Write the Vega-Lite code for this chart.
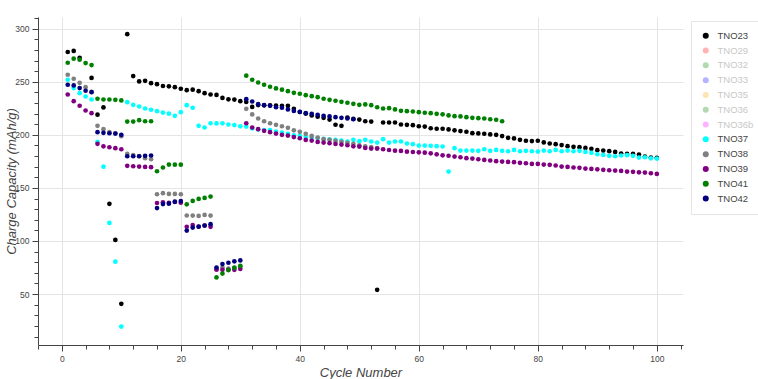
{
"$schema": "https://vega.github.io/schema/vega-lite/v6.json",
"width": 645, "height": 328, "autosize": "none",
"padding": {"left": 38, "top": 17, "right": 75, "bottom": 34},
"background": "white",
"config": {"view": {"stroke": null}, "font": "Liberation Sans"},
"data": {"values": [
{"s":"TNO23","c":1,"v":278},{"s":"TNO23","c":2,"v":279},{"s":"TNO23","c":3,"v":272.6},{"s":"TNO23","c":5,"v":253.6},{"s":"TNO23","c":6,"v":219},{"s":"TNO23","c":7,"v":225.8},{"s":"TNO23","c":8,"v":135},{"s":"TNO23","c":9,"v":101},{"s":"TNO23","c":10,"v":40.8},{"s":"TNO23","c":11,"v":294.8},{"s":"TNO23","c":12,"v":255.3},{"s":"TNO23","c":13,"v":250.3},{"s":"TNO23","c":14,"v":250.9},{"s":"TNO23","c":15,"v":248.7},{"s":"TNO23","c":16,"v":247.7},{"s":"TNO23","c":17,"v":246},{"s":"TNO23","c":18,"v":245.7},{"s":"TNO23","c":19,"v":244.9},{"s":"TNO23","c":20,"v":243.4},{"s":"TNO23","c":21,"v":242.1},{"s":"TNO23","c":22,"v":242.5},{"s":"TNO23","c":23,"v":241.1},{"s":"TNO23","c":24,"v":239.2},{"s":"TNO23","c":25,"v":238},{"s":"TNO23","c":26,"v":237.6},{"s":"TNO23","c":27,"v":234.8},{"s":"TNO23","c":28,"v":233.4},{"s":"TNO23","c":29,"v":233.2},{"s":"TNO23","c":30,"v":231.7},{"s":"TNO23","c":31,"v":231},{"s":"TNO23","c":32,"v":226.3},{"s":"TNO23","c":33,"v":228},{"s":"TNO23","c":34,"v":227.8},{"s":"TNO23","c":35,"v":227.8},{"s":"TNO23","c":36,"v":227.6},{"s":"TNO23","c":37,"v":227.3},{"s":"TNO23","c":38,"v":227.3},{"s":"TNO23","c":39,"v":224.5},{"s":"TNO23","c":40,"v":221.5},{"s":"TNO23","c":41,"v":220},{"s":"TNO23","c":42,"v":218.2},{"s":"TNO23","c":43,"v":217},{"s":"TNO23","c":44,"v":216},{"s":"TNO23","c":45,"v":214.4},{"s":"TNO23","c":46,"v":209.5},{"s":"TNO23","c":47,"v":208.5},{"s":"TNO23","c":48,"v":216.3},{"s":"TNO23","c":49,"v":215},{"s":"TNO23","c":50,"v":214.4},{"s":"TNO23","c":51,"v":212.8},{"s":"TNO23","c":52,"v":212.5},{"s":"TNO23","c":53,"v":54},{"s":"TNO23","c":54,"v":211.6},{"s":"TNO23","c":55,"v":211.6},{"s":"TNO23","c":56,"v":211.6},{"s":"TNO23","c":57,"v":209.7},{"s":"TNO23","c":58,"v":209.4},{"s":"TNO23","c":59,"v":209.1},{"s":"TNO23","c":60,"v":208.1},{"s":"TNO23","c":61,"v":207.8},{"s":"TNO23","c":62,"v":206.2},{"s":"TNO23","c":63,"v":205.7},{"s":"TNO23","c":64,"v":205.7},{"s":"TNO23","c":65,"v":205.1},{"s":"TNO23","c":66,"v":204.2},{"s":"TNO23","c":67,"v":203.5},{"s":"TNO23","c":68,"v":202.9},{"s":"TNO23","c":69,"v":201.6},{"s":"TNO23","c":70,"v":201.3},{"s":"TNO23","c":71,"v":201},{"s":"TNO23","c":72,"v":200.4},{"s":"TNO23","c":73,"v":200},{"s":"TNO23","c":74,"v":198.8},{"s":"TNO23","c":75,"v":197.2},{"s":"TNO23","c":76,"v":196.6},{"s":"TNO23","c":77,"v":195.3},{"s":"TNO23","c":78,"v":194.4},{"s":"TNO23","c":79,"v":194.1},{"s":"TNO23","c":80,"v":194.4},{"s":"TNO23","c":81,"v":192.8},{"s":"TNO23","c":82,"v":191.8},{"s":"TNO23","c":83,"v":191.2},{"s":"TNO23","c":84,"v":190.3},{"s":"TNO23","c":85,"v":189.3},{"s":"TNO23","c":86,"v":188.7},{"s":"TNO23","c":87,"v":188.4},{"s":"TNO23","c":88,"v":187.7},{"s":"TNO23","c":89,"v":186.8},{"s":"TNO23","c":90,"v":185.5},{"s":"TNO23","c":91,"v":185.2},{"s":"TNO23","c":92,"v":184.6},{"s":"TNO23","c":93,"v":183.9},{"s":"TNO23","c":94,"v":182.4},{"s":"TNO23","c":95,"v":182},{"s":"TNO23","c":96,"v":182},{"s":"TNO23","c":97,"v":181.4},{"s":"TNO23","c":98,"v":179.5},{"s":"TNO23","c":99,"v":178.6},{"s":"TNO23","c":100,"v":178.3},
{"s":"TNO37","c":1,"v":251.9},{"s":"TNO37","c":2,"v":244},{"s":"TNO37","c":3,"v":239.2},{"s":"TNO37","c":4,"v":236.1},{"s":"TNO37","c":5,"v":233.3},{"s":"TNO37","c":6,"v":193.5},{"s":"TNO37","c":7,"v":170},{"s":"TNO37","c":8,"v":117},{"s":"TNO37","c":9,"v":80.5},{"s":"TNO37","c":10,"v":19.4},{"s":"TNO37","c":11,"v":230.8},{"s":"TNO37","c":12,"v":228.3},{"s":"TNO37","c":13,"v":226.7},{"s":"TNO37","c":14,"v":224.8},{"s":"TNO37","c":15,"v":223.6},{"s":"TNO37","c":16,"v":222.3},{"s":"TNO37","c":17,"v":221},{"s":"TNO37","c":18,"v":219.9},{"s":"TNO37","c":19,"v":217.9},{"s":"TNO37","c":20,"v":221.3},{"s":"TNO37","c":21,"v":227.9},{"s":"TNO37","c":22,"v":225.5},{"s":"TNO37","c":23,"v":208.5},{"s":"TNO37","c":24,"v":206.9},{"s":"TNO37","c":25,"v":210.9},{"s":"TNO37","c":26,"v":210.7},{"s":"TNO37","c":27,"v":210.8},{"s":"TNO37","c":28,"v":209.7},{"s":"TNO37","c":29,"v":209.2},{"s":"TNO37","c":30,"v":208},{"s":"TNO37","c":31,"v":207.8},{"s":"TNO37","c":32,"v":206},{"s":"TNO37","c":33,"v":205},{"s":"TNO37","c":34,"v":204.5},{"s":"TNO37","c":35,"v":204.5},{"s":"TNO37","c":36,"v":203},{"s":"TNO37","c":37,"v":202},{"s":"TNO37","c":38,"v":201},{"s":"TNO37","c":39,"v":199.5},{"s":"TNO37","c":40,"v":199},{"s":"TNO37","c":41,"v":198},{"s":"TNO37","c":42,"v":197.5},{"s":"TNO37","c":43,"v":197},{"s":"TNO37","c":44,"v":196.3},{"s":"TNO37","c":45,"v":195.8},{"s":"TNO37","c":46,"v":195.2},{"s":"TNO37","c":47,"v":194.6},{"s":"TNO37","c":48,"v":193.7},{"s":"TNO37","c":49,"v":195.3},{"s":"TNO37","c":50,"v":194},{"s":"TNO37","c":51,"v":195.3},{"s":"TNO37","c":52,"v":193.7},{"s":"TNO37","c":53,"v":192.7},{"s":"TNO37","c":54,"v":195.9},{"s":"TNO37","c":55,"v":192.7},{"s":"TNO37","c":56,"v":193.7},{"s":"TNO37","c":57,"v":193.7},{"s":"TNO37","c":58,"v":191.8},{"s":"TNO37","c":59,"v":191.2},{"s":"TNO37","c":60,"v":189.9},{"s":"TNO37","c":61,"v":189.9},{"s":"TNO37","c":62,"v":189.6},{"s":"TNO37","c":63,"v":189.3},{"s":"TNO37","c":64,"v":189},{"s":"TNO37","c":65,"v":165.4},{"s":"TNO37","c":66,"v":187.4},{"s":"TNO37","c":67,"v":185.2},{"s":"TNO37","c":68,"v":185.2},{"s":"TNO37","c":69,"v":185.2},{"s":"TNO37","c":70,"v":184.9},{"s":"TNO37","c":71,"v":186.4},{"s":"TNO37","c":72,"v":184.9},{"s":"TNO37","c":73,"v":185.8},{"s":"TNO37","c":74,"v":184.9},{"s":"TNO37","c":75,"v":184.5},{"s":"TNO37","c":76,"v":185.8},{"s":"TNO37","c":77,"v":184.5},{"s":"TNO37","c":78,"v":184.9},{"s":"TNO37","c":79,"v":184.5},{"s":"TNO37","c":80,"v":184.2},{"s":"TNO37","c":81,"v":185.2},{"s":"TNO37","c":82,"v":184.5},{"s":"TNO37","c":83,"v":185.8},{"s":"TNO37","c":84,"v":184.5},{"s":"TNO37","c":85,"v":185.2},{"s":"TNO37","c":86,"v":184.5},{"s":"TNO37","c":87,"v":184.9},{"s":"TNO37","c":88,"v":183.9},{"s":"TNO37","c":89,"v":183},{"s":"TNO37","c":90,"v":181.7},{"s":"TNO37","c":91,"v":181.1},{"s":"TNO37","c":92,"v":180.2},{"s":"TNO37","c":93,"v":179.8},{"s":"TNO37","c":94,"v":180.5},{"s":"TNO37","c":95,"v":180.8},{"s":"TNO37","c":96,"v":180.2},{"s":"TNO37","c":97,"v":178.6},{"s":"TNO37","c":98,"v":178.9},{"s":"TNO37","c":99,"v":177.9},{"s":"TNO37","c":100,"v":177.6},
{"s":"TNO38","c":1,"v":256.6},{"s":"TNO38","c":2,"v":252.8},{"s":"TNO38","c":3,"v":249},{"s":"TNO38","c":4,"v":244.9},{"s":"TNO38","c":5,"v":240.5},{"s":"TNO38","c":6,"v":208.5},{"s":"TNO38","c":7,"v":205.3},{"s":"TNO38","c":8,"v":202.5},{"s":"TNO38","c":9,"v":201.5},{"s":"TNO38","c":10,"v":198.7},{"s":"TNO38","c":11,"v":182},{"s":"TNO38","c":12,"v":181},{"s":"TNO38","c":13,"v":180},{"s":"TNO38","c":14,"v":178},{"s":"TNO38","c":15,"v":177},{"s":"TNO38","c":16,"v":144},{"s":"TNO38","c":17,"v":145},{"s":"TNO38","c":18,"v":144.3},{"s":"TNO38","c":19,"v":144.3},{"s":"TNO38","c":20,"v":144},{"s":"TNO38","c":21,"v":124},{"s":"TNO38","c":22,"v":123.9},{"s":"TNO38","c":23,"v":123.6},{"s":"TNO38","c":24,"v":124.5},{"s":"TNO38","c":25,"v":123.9},{"s":"TNO38","c":26,"v":73.5},{"s":"TNO38","c":27,"v":75},{"s":"TNO38","c":28,"v":74},{"s":"TNO38","c":29,"v":75},{"s":"TNO38","c":30,"v":76},{"s":"TNO38","c":31,"v":224.5},{"s":"TNO38","c":32,"v":219.2},{"s":"TNO38","c":33,"v":215.4},{"s":"TNO38","c":34,"v":212.8},{"s":"TNO38","c":35,"v":210.9},{"s":"TNO38","c":36,"v":209.4},{"s":"TNO38","c":37,"v":208.1},{"s":"TNO38","c":38,"v":206.6},{"s":"TNO38","c":39,"v":204.2},{"s":"TNO38","c":40,"v":202.8},{"s":"TNO38","c":41,"v":200.9},{"s":"TNO38","c":42,"v":199},{"s":"TNO38","c":43,"v":197.5},{"s":"TNO38","c":44,"v":195.9},{"s":"TNO38","c":45,"v":195.3},{"s":"TNO38","c":46,"v":194.3},{"s":"TNO38","c":47,"v":193.5},{"s":"TNO38","c":48,"v":192.5},{"s":"TNO38","c":49,"v":191.5},{"s":"TNO38","c":50,"v":190.2},{"s":"TNO38","c":51,"v":189.2},{"s":"TNO38","c":52,"v":188.4},{"s":"TNO38","c":53,"v":187.5},
{"s":"TNO39","c":1,"v":238},{"s":"TNO39","c":2,"v":231.7},{"s":"TNO39","c":3,"v":227.4},{"s":"TNO39","c":4,"v":222.9},{"s":"TNO39","c":5,"v":220.4},{"s":"TNO39","c":6,"v":191.5},{"s":"TNO39","c":7,"v":189.2},{"s":"TNO39","c":8,"v":188.3},{"s":"TNO39","c":9,"v":187.4},{"s":"TNO39","c":10,"v":186.4},{"s":"TNO39","c":11,"v":170.8},{"s":"TNO39","c":12,"v":170.4},{"s":"TNO39","c":13,"v":170.1},{"s":"TNO39","c":14,"v":169.8},{"s":"TNO39","c":15,"v":169.5},{"s":"TNO39","c":16,"v":135.8},{"s":"TNO39","c":17,"v":136.4},{"s":"TNO39","c":18,"v":136},{"s":"TNO39","c":19,"v":136.7},{"s":"TNO39","c":20,"v":136},{"s":"TNO39","c":21,"v":113.4},{"s":"TNO39","c":22,"v":115},{"s":"TNO39","c":23,"v":113.4},{"s":"TNO39","c":24,"v":114.6},{"s":"TNO39","c":25,"v":113.3},{"s":"TNO39","c":26,"v":73},{"s":"TNO39","c":27,"v":72.8},{"s":"TNO39","c":28,"v":72.8},{"s":"TNO39","c":29,"v":72.8},{"s":"TNO39","c":30,"v":73.7},{"s":"TNO39","c":31,"v":210.9},{"s":"TNO39","c":32,"v":206.9},{"s":"TNO39","c":33,"v":205.3},{"s":"TNO39","c":34,"v":203.8},{"s":"TNO39","c":35,"v":202.5},{"s":"TNO39","c":36,"v":201.2},{"s":"TNO39","c":37,"v":200},{"s":"TNO39","c":38,"v":199.3},{"s":"TNO39","c":39,"v":197.9},{"s":"TNO39","c":40,"v":196.8},{"s":"TNO39","c":41,"v":195.2},{"s":"TNO39","c":42,"v":194.6},{"s":"TNO39","c":43,"v":193.3},{"s":"TNO39","c":44,"v":192.7},{"s":"TNO39","c":45,"v":192.1},{"s":"TNO39","c":46,"v":191.4},{"s":"TNO39","c":47,"v":190.8},{"s":"TNO39","c":48,"v":190.2},{"s":"TNO39","c":49,"v":189.2},{"s":"TNO39","c":50,"v":188.9},{"s":"TNO39","c":51,"v":187.6},{"s":"TNO39","c":52,"v":187},{"s":"TNO39","c":53,"v":187},{"s":"TNO39","c":54,"v":186.4},{"s":"TNO39","c":55,"v":185.7},{"s":"TNO39","c":56,"v":185.1},{"s":"TNO39","c":57,"v":184.8},{"s":"TNO39","c":58,"v":184.1},{"s":"TNO39","c":59,"v":183.8},{"s":"TNO39","c":60,"v":183.5},{"s":"TNO39","c":61,"v":183.2},{"s":"TNO39","c":62,"v":182.6},{"s":"TNO39","c":63,"v":181.6},{"s":"TNO39","c":64,"v":180.7},{"s":"TNO39","c":65,"v":180.3},{"s":"TNO39","c":66,"v":179.5},{"s":"TNO39","c":67,"v":178.9},{"s":"TNO39","c":68,"v":178},{"s":"TNO39","c":69,"v":177.6},{"s":"TNO39","c":70,"v":177},{"s":"TNO39","c":71,"v":176.4},{"s":"TNO39","c":72,"v":175.8},{"s":"TNO39","c":73,"v":175.2},{"s":"TNO39","c":74,"v":174.8},{"s":"TNO39","c":75,"v":174.5},{"s":"TNO39","c":76,"v":174.2},{"s":"TNO39","c":77,"v":173.6},{"s":"TNO39","c":78,"v":173.2},{"s":"TNO39","c":79,"v":172.6},{"s":"TNO39","c":80,"v":172.6},{"s":"TNO39","c":81,"v":172},{"s":"TNO39","c":82,"v":171.7},{"s":"TNO39","c":83,"v":171.1},{"s":"TNO39","c":84,"v":170.1},{"s":"TNO39","c":85,"v":169.8},{"s":"TNO39","c":86,"v":169.2},{"s":"TNO39","c":87,"v":168.9},{"s":"TNO39","c":88,"v":168.2},{"s":"TNO39","c":89,"v":167.9},{"s":"TNO39","c":90,"v":167.5},{"s":"TNO39","c":91,"v":167},{"s":"TNO39","c":92,"v":166.6},{"s":"TNO39","c":93,"v":166.3},{"s":"TNO39","c":94,"v":166},{"s":"TNO39","c":95,"v":165.4},{"s":"TNO39","c":96,"v":165.1},{"s":"TNO39","c":97,"v":164.7},{"s":"TNO39","c":98,"v":164.4},{"s":"TNO39","c":99,"v":163.8},{"s":"TNO39","c":100,"v":163.2},
{"s":"TNO41","c":1,"v":267.9},{"s":"TNO41","c":2,"v":271.7},{"s":"TNO41","c":3,"v":270.8},{"s":"TNO41","c":4,"v":267.6},{"s":"TNO41","c":5,"v":265.7},{"s":"TNO41","c":6,"v":234},{"s":"TNO41","c":7,"v":233.3},{"s":"TNO41","c":8,"v":233.3},{"s":"TNO41","c":9,"v":233},{"s":"TNO41","c":10,"v":232.4},{"s":"TNO41","c":11,"v":212.5},{"s":"TNO41","c":12,"v":212.5},{"s":"TNO41","c":13,"v":213.8},{"s":"TNO41","c":14,"v":212.8},{"s":"TNO41","c":15,"v":212.8},{"s":"TNO41","c":16,"v":165.7},{"s":"TNO41","c":17,"v":169.2},{"s":"TNO41","c":18,"v":172},{"s":"TNO41","c":19,"v":171.9},{"s":"TNO41","c":20,"v":171.9},{"s":"TNO41","c":21,"v":134.5},{"s":"TNO41","c":22,"v":137.7},{"s":"TNO41","c":23,"v":139.6},{"s":"TNO41","c":24,"v":140.6},{"s":"TNO41","c":25,"v":141.8},{"s":"TNO41","c":26,"v":65.7},{"s":"TNO41","c":27,"v":69.3},{"s":"TNO41","c":28,"v":72.6},{"s":"TNO41","c":29,"v":74.7},{"s":"TNO41","c":30,"v":76.5},{"s":"TNO41","c":31,"v":255.7},{"s":"TNO41","c":32,"v":251.9},{"s":"TNO41","c":33,"v":249.3},{"s":"TNO41","c":34,"v":247.2},{"s":"TNO41","c":35,"v":245.3},{"s":"TNO41","c":36,"v":243.7},{"s":"TNO41","c":37,"v":242.5},{"s":"TNO41","c":38,"v":241.1},{"s":"TNO41","c":39,"v":239.6},{"s":"TNO41","c":40,"v":238.7},{"s":"TNO41","c":41,"v":237.4},{"s":"TNO41","c":42,"v":236.4},{"s":"TNO41","c":43,"v":235.5},{"s":"TNO41","c":44,"v":234},{"s":"TNO41","c":45,"v":233},{"s":"TNO41","c":46,"v":232.1},{"s":"TNO41","c":47,"v":231.1},{"s":"TNO41","c":48,"v":230.2},{"s":"TNO41","c":49,"v":229.2},{"s":"TNO41","c":50,"v":228.3},{"s":"TNO41","c":51,"v":228.6},{"s":"TNO41","c":52,"v":227.9},{"s":"TNO41","c":53,"v":226},{"s":"TNO41","c":54,"v":224.8},{"s":"TNO41","c":55,"v":225.1},{"s":"TNO41","c":56,"v":223.9},{"s":"TNO41","c":57,"v":222.6},{"s":"TNO41","c":58,"v":222.3},{"s":"TNO41","c":59,"v":222},{"s":"TNO41","c":60,"v":221.3},{"s":"TNO41","c":61,"v":220.8},{"s":"TNO41","c":62,"v":220.4},{"s":"TNO41","c":63,"v":219.8},{"s":"TNO41","c":64,"v":219.3},{"s":"TNO41","c":65,"v":218.3},{"s":"TNO41","c":66,"v":217.6},{"s":"TNO41","c":67,"v":217.3},{"s":"TNO41","c":68,"v":216.6},{"s":"TNO41","c":69,"v":216},{"s":"TNO41","c":70,"v":215.7},{"s":"TNO41","c":71,"v":215.4},{"s":"TNO41","c":72,"v":214.7},{"s":"TNO41","c":73,"v":214.2},{"s":"TNO41","c":74,"v":212.8},
{"s":"TNO42","c":1,"v":247.2},{"s":"TNO42","c":2,"v":246.5},{"s":"TNO42","c":3,"v":244},{"s":"TNO42","c":4,"v":241.5},{"s":"TNO42","c":5,"v":240.2},{"s":"TNO42","c":6,"v":202.5},{"s":"TNO42","c":7,"v":201.9},{"s":"TNO42","c":8,"v":201.5},{"s":"TNO42","c":9,"v":201.2},{"s":"TNO42","c":10,"v":200},{"s":"TNO42","c":11,"v":179.8},{"s":"TNO42","c":12,"v":179.8},{"s":"TNO42","c":13,"v":179.8},{"s":"TNO42","c":14,"v":180.2},{"s":"TNO42","c":15,"v":180.5},{"s":"TNO42","c":16,"v":131},{"s":"TNO42","c":17,"v":134.8},{"s":"TNO42","c":18,"v":135.1},{"s":"TNO42","c":19,"v":137},{"s":"TNO42","c":20,"v":137.6},{"s":"TNO42","c":21,"v":109.8},{"s":"TNO42","c":22,"v":112.6},{"s":"TNO42","c":23,"v":113.6},{"s":"TNO42","c":24,"v":114.5},{"s":"TNO42","c":25,"v":115.8},{"s":"TNO42","c":26,"v":75},{"s":"TNO42","c":27,"v":78.2},{"s":"TNO42","c":28,"v":79.5},{"s":"TNO42","c":29,"v":80.8},{"s":"TNO42","c":30,"v":81.7},{"s":"TNO42","c":31,"v":233.6},{"s":"TNO42","c":32,"v":231.4},{"s":"TNO42","c":33,"v":228.9},{"s":"TNO42","c":34,"v":227.9},{"s":"TNO42","c":35,"v":227.4},{"s":"TNO42","c":36,"v":226},{"s":"TNO42","c":37,"v":225.5},{"s":"TNO42","c":38,"v":223.9},{"s":"TNO42","c":39,"v":222.5},{"s":"TNO42","c":40,"v":221.7},{"s":"TNO42","c":41,"v":220.4},{"s":"TNO42","c":42,"v":219.8},{"s":"TNO42","c":43,"v":218.9},{"s":"TNO42","c":44,"v":217.9},{"s":"TNO42","c":45,"v":217.3},{"s":"TNO42","c":46,"v":216.6},{"s":"TNO42","c":47,"v":216},{"s":"TNO42","c":48,"v":215.4},{"s":"TNO42","c":49,"v":214.7}
]},
"layer": [
{
"mark": {"type": "point", "filled": true, "size": 22, "opacity": 1, "strokeWidth": 0},
"encoding": {
"x": {"field": "c", "type": "quantitative",
 "scale": {"domain": [-4, 104.4], "nice": false, "zero": false},
 "axis": {"orient": "bottom", "values": [0, 20, 40, 60, 80, 100], "grid": true, "gridColor": "#e5e5e5", "domainColor": "#444444", "tickColor": "#444444", "tickSize": 6, "labelFontSize": 8.5, "labelColor": "#444444", "labelPadding": 3, "title": "Cycle Number", "titleFontStyle": "italic", "titleFontWeight": "normal", "titleFontSize": 13, "titleColor": "#444444", "titlePadding": 4}},
"y": {"field": "v", "type": "quantitative",
 "scale": {"domain": [2, 311], "nice": false, "zero": false},
 "axis": {"orient": "left", "values": [50, 100, 150, 200, 250, 300], "grid": true, "gridColor": "#e5e5e5", "domainColor": "#444444", "tickColor": "#444444", "tickSize": 6, "labelFontSize": 8.5, "labelColor": "#444444", "labelPadding": 3, "title": "Charge Capacity (mAh/g)", "titleFontStyle": "italic", "titleFontWeight": "normal", "titleFontSize": 13, "titleColor": "#444444", "titleX": -27, "titleY": 164, "titleAngle": -90, "titleAlign": "center", "titleBaseline": "middle"}},
"color": {"field": "s", "type": "nominal",
 "scale": {"domain": ["TNO23", "TNO29", "TNO32", "TNO33", "TNO35", "TNO36", "TNO36b", "TNO37", "TNO38", "TNO39", "TNO41", "TNO42"],
  "range": ["#000000", "#ffb3b3", "#b3d9b3", "#b3b3ff", "#ffe4b3", "#b3d9b3", "#ffb3ff", "#00ffff", "#808080", "#800080", "#008000", "#000080"]},
 "legend": {"orient": "none", "legendX": 653, "legendY": 4, "title": null, "padding": 10, "strokeColor": "#e5e5e5", "fillColor": "white", "symbolType": "circle", "symbolSize": 36, "symbolStrokeWidth": 0, "labelFontSize": 9.5, "labelOffset": 7, "rowPadding": 3.8,
  "labelColor": {"expr": "indexof(['TNO29','TNO32','TNO33','TNO35','TNO36','TNO36b'], datum.value) >= 0 ? '#c8c8c8' : '#444444'"}}}
}
},
{
"mark": {"type": "point", "opacity": 0},
"encoding": {
"x": {"field": "c", "type": "quantitative",
 "axis": {"orient": "bottom", "values": [-4, 4, 8, 12, 16, 24, 28, 32, 36, 44, 48, 52, 56, 64, 68, 72, 76, 84, 88, 92, 96, 104], "grid": false, "domain": false, "labels": false, "tickColor": "#444444", "tickSize": 4, "title": null}},
"y": {"field": "v", "type": "quantitative",
 "axis": {"orient": "left", "values": [10, 20, 30, 40, 60, 70, 80, 90, 110, 120, 130, 140, 160, 170, 180, 190, 210, 220, 230, 240, 260, 270, 280, 290, 310], "grid": false, "domain": false, "labels": false, "tickColor": "#444444", "tickSize": 4, "title": null}}
}
}
],
"resolve": {"axis": {"x": "independent", "y": "independent"}}
}
